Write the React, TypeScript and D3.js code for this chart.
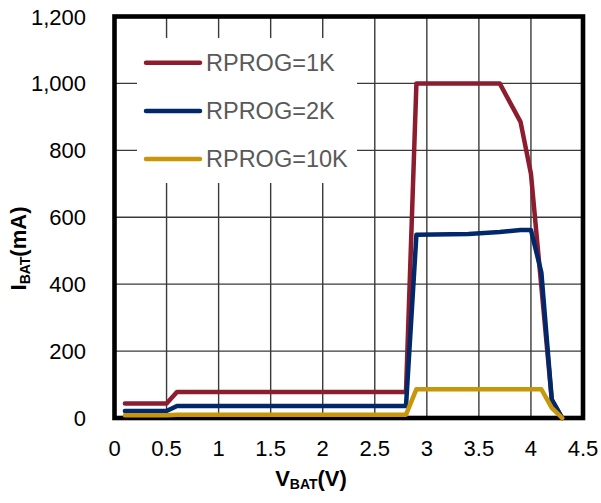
import React from "react";
import * as d3 from "d3";

const redV = [0.1, 0.5, 0.6, 2.8, 2.9, 3.7, 3.9, 4.0, 4.2, 4.3];
const redI = [43, 43, 78, 78, 1000, 1000, 885, 730, 55, 0];
const blueV = [0.1, 0.5, 0.6, 2.8, 2.9, 3.4, 3.7, 3.9, 4.0, 4.1, 4.2, 4.3];
const blueI = [21, 21, 36, 36, 548, 550, 556, 562, 562, 435, 55, 0];
const goldV = [0.1, 0.5, 0.6, 2.8, 2.9, 4.1, 4.2, 4.3];
const goldI = [8, 8, 10, 10, 86, 86, 30, 0];

const seriesNames = ["RPROG=1K", "RPROG=2K", "RPROG=10K"];
const seriesColors = ["#8C1D2E", "#00286B", "#C8960A"];

const xTicks = [0, 0.5, 1, 1.5, 2, 2.5, 3, 3.5, 4, 4.5];
const yTicks = [0, 200, 400, 600, 800, 1000, 1200];

const W = 601;
const H = 503;
const L = 114.5, R = 583, T = 16.5, B = 418;
const FONT = "Arial, 'Liberation Sans', Helvetica, sans-serif";

export default function App() {
  const x = d3.scaleLinear().domain([0, 4.5]).range([L, R]);
  const y = d3.scaleLinear().domain([0, 1200]).range([B, T]);
  const line = d3
    .line<[number, number]>()
    .x((d) => x(d[0]))
    .y((d) => y(d[1]));
  const series = [
    d3.zip(redV, redI) as [number, number][],
    d3.zip(blueV, blueI) as [number, number][],
    d3.zip(goldV, goldI) as [number, number][],
  ];
  const fmt = d3.format(",");
  const legendY = [62.7, 111, 159];

  return (
    <svg
      width={W}
      height={H}
      style={{ position: "absolute", left: 0, top: 0, background: "#fff" }}
      fontFamily={FONT}
    >
      <rect x={0} y={0} width={W} height={H} fill="#fff" />
      {/* gridlines */}
      {xTicks.slice(1, -1).map((t) => (
        <line key={"gx" + t} x1={x(t)} x2={x(t)} y1={T} y2={B} stroke="#3a3a3a" strokeWidth={1.4} />
      ))}
      {yTicks.slice(1, -1).map((t) => (
        <line key={"gy" + t} x1={L} x2={R} y1={y(t)} y2={y(t)} stroke="#3a3a3a" strokeWidth={1.4} />
      ))}
      {/* legend background */}
      <rect x={137} y={38} width={220} height={145} fill="#fff" />
      {/* frame */}
      <rect x={L} y={T} width={R - L} height={B - T} fill="none" stroke="#000" strokeWidth={4.6} />
      {/* series */}
      {series.map((s, i) => (
        <path
          key={"s" + i}
          d={line(s) || ""}
          fill="none"
          stroke={seriesColors[i]}
          strokeWidth={4.5}
          strokeLinejoin="round"
          strokeLinecap="round"
        />
      ))}
      {/* legend */}
      {seriesNames.map((n, i) => (
        <g key={"lg" + i}>
          <line x1={146} x2={200} y1={legendY[i]} y2={legendY[i]} stroke={seriesColors[i]} strokeWidth={4.5} strokeLinecap="round" />
          <text x={206} y={legendY[i] + 8.3} fontSize={23.5} fill="#595959">
            {n}
          </text>
        </g>
      ))}
      {/* x tick labels */}
      {xTicks.map((t) => (
        <text key={"xt" + t} x={x(t)} y={456} fontSize={22} textAnchor="middle" fill="#000">
          {String(t)}
        </text>
      ))}
      {/* y tick labels */}
      {yTicks.map((t) => (
        <text key={"yt" + t} x={86} y={y(t) + 8} fontSize={22} textAnchor="end" fill="#000">
          {fmt(t)}
        </text>
      ))}
      {/* x title */}
      <text x={311} y={486} fontSize={22} fontWeight="bold" textAnchor="middle" fill="#000">
        V
        <tspan fontSize={14} dy={3}>BAT</tspan>
        <tspan dy={-3}>(V)</tspan>
      </text>
      {/* y title */}
      <text
        transform={`translate(26,248.5) rotate(-90)`}
        fontSize={22}
        fontWeight="bold"
        textAnchor="middle"
        fill="#000"
      >
        I
        <tspan fontSize={14} dy={4}>BAT</tspan>
        <tspan dy={-4}>(mA)</tspan>
      </text>
    </svg>
  );
}
